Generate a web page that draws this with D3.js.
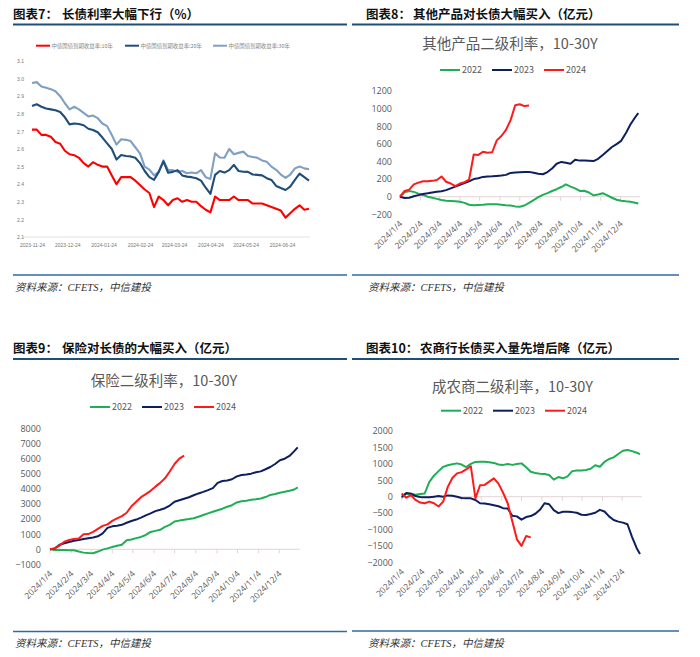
<!DOCTYPE html>
<html><head><meta charset="utf-8">
<script src="https://cdn.jsdelivr.net/npm/d3@7"></script>
<style>
body{margin:0;background:#fff;}
svg{display:block;font-family:"Noto Sans CJK SC","Noto Sans",sans-serif;}
</style>
</head><body><svg id="c" width="700" height="657"></svg>
<script>
// ---------- Panel 1 data: 中债国债到期收益率 (%) ----------
const p1Dates = ["2023-11-24","2023-11-28","2023-12-02","2023-12-06","2023-12-10","2023-12-14","2023-12-18","2023-12-22","2023-12-26","2023-12-30","2024-01-03","2024-01-07","2024-01-11","2024-01-15","2024-01-19","2024-01-23","2024-01-27","2024-01-31","2024-02-04","2024-02-08","2024-02-12","2024-02-16","2024-02-20","2024-02-24","2024-02-28","2024-03-03","2024-03-07","2024-03-11","2024-03-15","2024-03-19","2024-03-23","2024-03-27","2024-03-31","2024-04-04","2024-04-08","2024-04-12","2024-04-16","2024-04-20","2024-04-24","2024-04-28","2024-05-02","2024-05-06","2024-05-10","2024-05-14","2024-05-18","2024-05-22","2024-05-26","2024-05-30","2024-06-03","2024-06-07","2024-06-11","2024-06-15","2024-06-19","2024-06-23","2024-06-27","2024-07-01","2024-07-05","2024-07-09","2024-07-13","2024-07-17"];
const p1Y10 = [2.71,2.71,2.68,2.68,2.67,2.64,2.63,2.59,2.57,2.565,2.55,2.52,2.50,2.525,2.51,2.50,2.50,2.45,2.40,2.44,2.44,2.44,2.42,2.395,2.37,2.35,2.27,2.33,2.31,2.28,2.31,2.32,2.30,2.31,2.30,2.30,2.275,2.255,2.24,2.33,2.31,2.31,2.31,2.33,2.31,2.31,2.31,2.29,2.29,2.29,2.28,2.27,2.26,2.25,2.21,2.235,2.26,2.28,2.255,2.26];
const p1Y20 = [2.844,2.854,2.84,2.83,2.825,2.82,2.81,2.78,2.74,2.745,2.742,2.735,2.715,2.708,2.695,2.665,2.632,2.60,2.54,2.566,2.56,2.558,2.55,2.52,2.475,2.44,2.425,2.47,2.53,2.465,2.47,2.48,2.45,2.443,2.44,2.434,2.42,2.38,2.345,2.453,2.475,2.466,2.48,2.51,2.475,2.471,2.47,2.455,2.453,2.45,2.434,2.424,2.39,2.378,2.367,2.386,2.425,2.46,2.44,2.42];
const p1Y30 = [2.975,2.98,2.955,2.948,2.94,2.928,2.90,2.86,2.825,2.84,2.825,2.805,2.785,2.79,2.775,2.745,2.73,2.68,2.625,2.655,2.652,2.645,2.61,2.575,2.50,2.483,2.45,2.47,2.535,2.48,2.48,2.47,2.475,2.462,2.466,2.462,2.48,2.44,2.43,2.575,2.552,2.55,2.60,2.57,2.578,2.585,2.56,2.555,2.55,2.535,2.528,2.50,2.482,2.455,2.436,2.455,2.49,2.50,2.49,2.485];
const p1Ticks = ["2023-11-24","2023-12-24","2024-01-24","2024-02-24","2024-03-24","2024-04-24","2024-05-24","2024-06-24"];
const p1YTicks = [2.1,2.2,2.3,2.4,2.5,2.6,2.7,2.8,2.9,3.0,3.1];
const p1Legend = ["中债国债到期收益率:10年","中债国债到期收益率:20年","中债国债到期收益率:30年"];

// ---------- Panels 2-4: weekly cumulative net buying (亿元) ----------
const weekDates = ["2024-01-04","2024-01-11","2024-01-18","2024-01-25","2024-02-01","2024-02-08","2024-02-15","2024-02-22","2024-02-29","2024-03-07","2024-03-14","2024-03-21","2024-03-28","2024-04-04","2024-04-11","2024-04-18","2024-04-25","2024-05-02","2024-05-09","2024-05-16","2024-05-23","2024-05-30","2024-06-06","2024-06-13","2024-06-20","2024-06-27","2024-07-04","2024-07-11","2024-07-18","2024-07-25","2024-08-01","2024-08-08","2024-08-15","2024-08-22","2024-08-29","2024-09-05","2024-09-12","2024-09-19","2024-09-26","2024-10-03","2024-10-10","2024-10-17","2024-10-24","2024-10-31","2024-11-07","2024-11-14","2024-11-21","2024-11-28","2024-12-05","2024-12-12","2024-12-19","2024-12-26","2024-12-31"];
const monthTicks = ["2024-01-04","2024-02-04","2024-03-04","2024-04-04","2024-05-04","2024-06-04","2024-07-04","2024-08-04","2024-09-04","2024-10-04","2024-11-04","2024-12-04"];
const seriesNames = ["2022","2023","2024"];

const other2022 = [0,50,65,55,35,20,0,-12,-25,-38,-45,-49,-52,-57,-70,-92,-98,-95,-92,-87,-87,-87,-92,-98,-100,-110,-114,-100,-70,-38,-5,20,40,65,85,110,140,115,95,66,68,48,15,25,40,15,-12,-35,-45,-52,-57,-68,-78];
const other2023 = [0,-15,-12,5,18,30,38,48,55,62,75,95,115,135,155,175,200,210,225,230,232,236,240,248,270,275,278,280,282,272,262,255,280,320,375,395,385,375,420,410,410,408,405,430,475,520,565,598,635,720,820,900,950];
const other2024 = [0,65,80,140,160,175,175,180,190,230,170,150,120,150,165,195,480,475,510,500,505,640,690,760,870,1040,1050,1030,1035];
const otherTicks = [-200,0,200,400,600,800,1000,1200];

const ins2022 = [0,-40,-50,-50,-55,-60,-150,-220,-250,-260,-150,-20,60,150,230,300,600,650,740,820,950,1150,1220,1290,1480,1620,1840,1900,1950,2000,2060,2160,2270,2380,2490,2590,2690,2820,2920,3100,3180,3220,3280,3310,3360,3460,3600,3660,3750,3810,3880,3960,4100];
const ins2023 = [0,60,300,400,480,560,620,680,730,780,860,1050,1420,1520,1560,1620,1760,1870,1970,2100,2250,2380,2530,2620,2720,2900,3150,3250,3350,3450,3580,3700,3800,3920,4050,4400,4520,4560,4640,4830,4920,4960,5010,5100,5160,5300,5450,5650,5900,6000,6180,6500,6750];
const ins2024 = [0,60,250,500,620,680,720,1000,1010,1150,1350,1550,1650,1880,2050,2200,2420,2850,3150,3450,3650,3870,4150,4400,4700,5150,5650,6000,6200];
const insTicks = [-1000,0,1000,2000,3000,4000,5000,6000,7000,8000];

const rural2022 = [-30,100,90,60,80,100,450,640,780,910,960,990,1016,980,900,1000,1060,1067,1065,1050,1030,980,970,996,970,1000,1016,900,760,720,700,690,660,520,600,560,620,780,800,800,813,850,960,914,1060,1150,1200,1300,1400,1425,1390,1340,1300];
const rural2023 = [0,110,90,20,-10,-20,-20,0,20,0,40,30,0,-40,-50,-50,-100,-200,-205,-230,-260,-290,-350,-360,-580,-600,-700,-620,-590,-520,-400,-200,-230,-410,-500,-460,-460,-470,-490,-550,-560,-530,-490,-400,-450,-600,-710,-760,-790,-840,-1230,-1570,-1750];
const rural2024 = [100,-30,50,-100,-180,-200,-150,-200,-300,-150,300,570,710,750,830,930,-50,350,360,460,560,400,120,-200,-750,-1300,-1500,-1200,-1240];
const ruralTicks = [-2000,-1500,-1000,-500,0,500,1000,1500,2000];

// ---------- drawing ----------
const parse = d3.timeParse("%Y-%m-%d");
const svg = d3.select("#c");
svg.append("rect").attr("width",700).attr("height",657).attr("fill","#fff");

const RULE = "#1f4e79";
function header(x0, x1, titleY, label, labelX, mainX, main, ruleY) {
  const t = svg.append("text").attr("y", titleY).attr("font-size", 12.5).attr("font-weight", 700).attr("fill", "#111");
  t.append("tspan").attr("x", labelX).text(label);
  t.append("tspan").attr("x", mainX).text(main);
  svg.append("line").attr("x1", x0).attr("x2", x1).attr("y1", ruleY).attr("y2", ruleY)
    .attr("stroke", RULE).attr("stroke-width", 2.2);
}
function footer(x0, x1, ruleY, textX, textY) {
  svg.append("line").attr("x1", x0).attr("x2", x1).attr("y1", ruleY).attr("y2", ruleY)
    .attr("stroke", "#2f6aa3").attr("stroke-width", 1.6);
  svg.append("text").attr("x", textX).attr("y", textY).attr("font-size", 10.5)
    .attr("font-style", "italic").attr("fill", "#333")
    .attr("font-family", "'Liberation Serif','Noto Sans CJK SC',serif")
    .text("资料来源：CFETS，中信建投");
}

header(13, 347, 19, "图表7：", 13, 62, "长债利率大幅下行（%）", 24.5);
header(352, 679, 19, "图表8：", 366, 413, "其他产品对长债大幅买入（亿元）", 24.5);
header(13, 347, 352.5, "图表9：", 13, 62, "保险对长债的大幅买入（亿元）", 359);
header(352, 679, 352.5, "图表10：", 366, 420, "农商行长债买入量先增后降（亿元）", 359);
footer(13, 347, 275, 15, 291);
footer(352, 679, 275, 368, 291);
footer(13, 347, 631.5, 15, 647);
footer(352, 679, 631, 368, 647);

// ----- Panel 1 -----
(function(){
  const x = d3.scaleTime().domain([parse("2023-11-24"), parse("2024-06-24")]).range([32, 282]);
  const y = d3.scaleLinear().domain([2.1, 3.1]).range([237, 61]);
  const g = svg.append("g");
  g.append("line").attr("x1", 23).attr("x2", 310).attr("y1", y(2.1)).attr("y2", y(2.1)).attr("stroke", "#d9d9d9").attr("stroke-width", 0.8);
  const yAxis = d3.axisLeft(y).tickValues(p1YTicks).tickSize(0).tickPadding(0).tickFormat(d3.format(".1f"));
  const ya = g.append("g").attr("transform", "translate(24,0)").call(yAxis);
  ya.select(".domain").remove();
  ya.selectAll("text").attr("font-size", 5).attr("fill", "#777").attr("font-family", "'Liberation Sans',sans-serif");
  const xAxis = d3.axisBottom(x).tickValues(p1Ticks.map(parse)).tickSize(0).tickPadding(6).tickFormat(d3.timeFormat("%Y-%m-%d"));
  const xa = g.append("g").attr("transform", `translate(0,${y(2.1)})`).call(xAxis);
  xa.select(".domain").remove();
  xa.selectAll("text").attr("font-size", 5).attr("fill", "#777").attr("font-family", "'Liberation Sans',sans-serif");
  const cols = ["#ff0000", "#1f4e79", "#7f9fc3"];
  const sets = [p1Y10, p1Y20, p1Y30];
  const line = d3.line().x((d, i) => x(parse(p1Dates[i]))).y(d => y(d));
  [2, 1, 0].forEach(k => {
    g.append("path").attr("d", line(sets[k])).attr("fill", "none").attr("stroke", cols[k])
      .attr("stroke-width", 2.1).attr("stroke-linejoin", "round");
  });
  const lx = [36, 125, 213];
  p1Legend.forEach((name, k) => {
    g.append("line").attr("x1", lx[k]).attr("x2", lx[k] + 14).attr("y1", 45.7).attr("y2", 45.7)
      .attr("stroke", cols[k]).attr("stroke-width", 2);
    g.append("text").attr("x", lx[k] + 15.5).attr("y", 47.6).attr("font-size", 5.4).attr("fill", "#888").text(name);
  });
})();

// ----- Panels 2-4 -----
const COLS = ["#1fae55", "#0c1f5e", "#ff1a1a"];
function cumPanel(cfg) {
  const g = svg.append("g");
  const x = d3.scaleTime().domain([parse("2024-01-04"), parse("2024-12-31")]).range(cfg.xr);
  const y = d3.scaleLinear().domain(cfg.yd).range(cfg.yr);
  g.append("text").attr("x", cfg.titleX).attr("y", cfg.titleY).attr("text-anchor", "middle")
    .attr("font-size", 14.5).attr("fill", "#595959").text(cfg.title);
  seriesNames.forEach((n, k) => {
    const lx = cfg.legX + k * 52;
    g.append("line").attr("x1", lx).attr("x2", lx + 20).attr("y1", cfg.legY).attr("y2", cfg.legY)
      .attr("stroke", COLS[k]).attr("stroke-width", 2);
    g.append("text").attr("x", lx + 22).attr("y", cfg.legY + 3.2).attr("font-size", 9).attr("fill", "#595959").text(n);
  });
  // zero line + month ticks
  g.append("line").attr("x1", cfg.xr[0]).attr("x2", cfg.xr[1] + 2).attr("y1", y(0)).attr("y2", y(0))
    .attr("stroke", "#e3d3d6").attr("stroke-width", 1);
  monthTicks.forEach(t => {
    g.append("line").attr("x1", x(parse(t))).attr("x2", x(parse(t))).attr("y1", y(0)).attr("y2", y(0) + 4)
      .attr("stroke", "#e3d3d6").attr("stroke-width", 1);
  });
  const yAxis = d3.axisLeft(y).tickValues(cfg.ticks).tickSize(0).tickPadding(0).tickFormat(d3.format("d"));
  const ya = g.append("g").attr("transform", `translate(${cfg.labelX},0)`).call(yAxis);
  ya.select(".domain").remove();
  ya.selectAll("text").attr("font-size", 9).attr("fill", "#595959").attr("font-family", "'Open Sans','Noto Sans',sans-serif");
  const bottom = cfg.yr[0];
  monthTicks.forEach(t => {
    const px = x(parse(t));
    g.append("text").attr("transform", `translate(${px + 3},${bottom + 10}) rotate(-45)`)
      .attr("text-anchor", "end").attr("font-size", 8.5).attr("fill", "#595959")
      .attr("font-family", "'Open Sans','Noto Sans',sans-serif")
      .text(d3.timeFormat("%Y/%-m/%-d")(parse(t)));
  });
  const line = d3.line().x((d, i) => x(parse(weekDates[i]))).y(d => y(d));
  cfg.data.forEach((arr, k) => {
    g.append("path").attr("d", line(arr)).attr("fill", "none").attr("stroke", COLS[k])
      .attr("stroke-width", 2).attr("stroke-linejoin", "round");
  });
}

cumPanel({ title: "其他产品二级利率，10-30Y", titleX: 510, titleY: 48.5, legX: 440, legY: 70,
  xr: [400, 638.3], yd: [-200, 1200], yr: [214.3, 91.1], ticks: otherTicks, labelX: 392,
  data: [other2022, other2023, other2024] });
cumPanel({ title: "保险二级利率，10-30Y", titleX: 164, titleY: 385.5, legX: 90, legY: 407,
  xr: [50, 297.7], yd: [-1000, 8000], yr: [564.4, 428.5], ticks: insTicks, labelX: 41,
  data: [ins2022, ins2023, ins2024] });
cumPanel({ title: "成农商二级利率，10-30Y", titleX: 512.5, titleY: 392, legX: 441, legY: 410.7,
  xr: [401.7, 640], yd: [-2000, 2000], yr: [562.3, 431.1], ticks: ruralTicks, labelX: 393,
  data: [rural2022, rural2023, rural2024] });
</script>
</body></html>
